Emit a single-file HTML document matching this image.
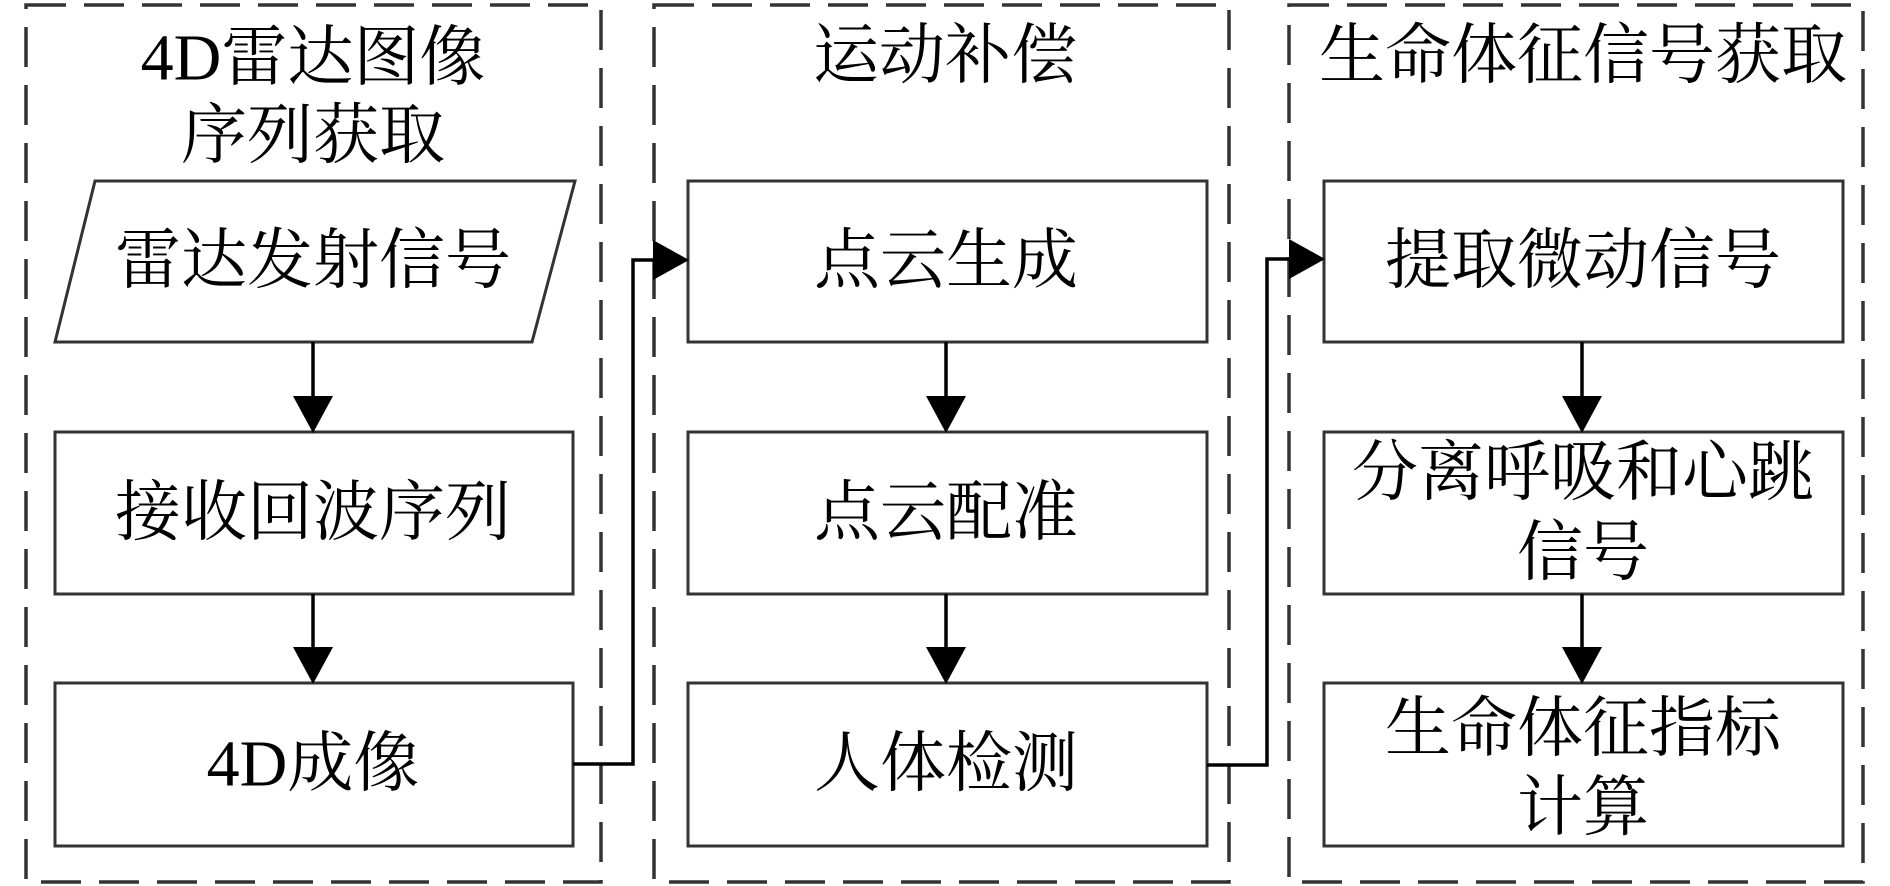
<!DOCTYPE html>
<html>
<head>
<meta charset="utf-8">
<style>
  html,body{margin:0;padding:0;background:#fff;}
  body{width:1890px;height:886px;overflow:hidden;}
  svg{display:block;}
  text{font-family:"Liberation Serif","Noto Serif CJK SC",serif;font-size:66px;fill:#000;}
</style>
</head>
<body>
<svg width="1890" height="886" viewBox="0 0 1890 886" xmlns="http://www.w3.org/2000/svg">
  <!-- dashed group frames -->
  <g fill="none" stroke="#333" stroke-width="3.5" stroke-dasharray="40 18">
    <rect x="26" y="5" width="575" height="877"/>
    <rect x="654" y="5" width="575" height="877"/>
    <rect x="1289" y="5" width="574" height="877"/>
  </g>

  <!-- boxes -->
  <g fill="#fff" stroke="#333" stroke-width="3">
    <polygon points="95,181 575,181 532,342 55,342"/>
    <rect x="55" y="432" width="518" height="162"/>
    <rect x="55" y="683" width="518" height="163"/>

    <rect x="688" y="181" width="519" height="161"/>
    <rect x="688" y="432" width="519" height="162"/>
    <rect x="688" y="683" width="519" height="163"/>

    <rect x="1324" y="181" width="519" height="161"/>
    <rect x="1324" y="432" width="519" height="162"/>
    <rect x="1324" y="683" width="519" height="163"/>
  </g>

  <!-- vertical arrows -->
  <g stroke="#000" stroke-width="3.5" fill="none">
    <line x1="313" y1="342" x2="313" y2="400"/>
    <line x1="313" y1="594" x2="313" y2="651"/>
    <line x1="946" y1="342" x2="946" y2="400"/>
    <line x1="946" y1="594" x2="946" y2="651"/>
    <line x1="1582" y1="342" x2="1582" y2="400"/>
    <line x1="1582" y1="594" x2="1582" y2="651"/>
    <!-- connectors -->
    <polyline points="573,764 633,764 633,260 655,260"/>
    <polyline points="1207,765 1267,765 1267,259 1291,259"/>
  </g>
  <g fill="#000">
    <polygon points="293,396 333,396 313,433"/>
    <polygon points="293,647 333,647 313,684"/>
    <polygon points="926,396 966,396 946,433"/>
    <polygon points="926,647 966,647 946,684"/>
    <polygon points="1562,396 1602,396 1582,433"/>
    <polygon points="1562,647 1602,647 1582,684"/>
    <polygon points="653,240 653,280 689,260"/>
    <polygon points="1289,239 1289,279 1325,259"/>
  </g>

  <!-- titles -->
  <g text-anchor="middle" dominant-baseline="central">
    <text x="313" y="58">4D雷达图像</text>
    <text x="313" y="136">序列获取</text>
    <text x="945" y="56">运动补偿</text>
    <text x="1583" y="56">生命体征信号获取</text>

    <!-- left column -->
    <text x="313" y="261">雷达发射信号</text>
    <text x="313" y="513">接收回波序列</text>
    <text x="313" y="764">4D成像</text>

    <!-- middle column -->
    <text x="946" y="261">点云生成</text>
    <text x="946" y="513">点云配准</text>
    <text x="946" y="764">人体检测</text>

    <!-- right column -->
    <text x="1583" y="261">提取微动信号</text>
    <text x="1583" y="473">分离呼吸和心跳</text>
    <text x="1583" y="553">信号</text>
    <text x="1583" y="729">生命体征指标</text>
    <text x="1583" y="808">计算</text>
  </g>
</svg>
</body>
</html>
